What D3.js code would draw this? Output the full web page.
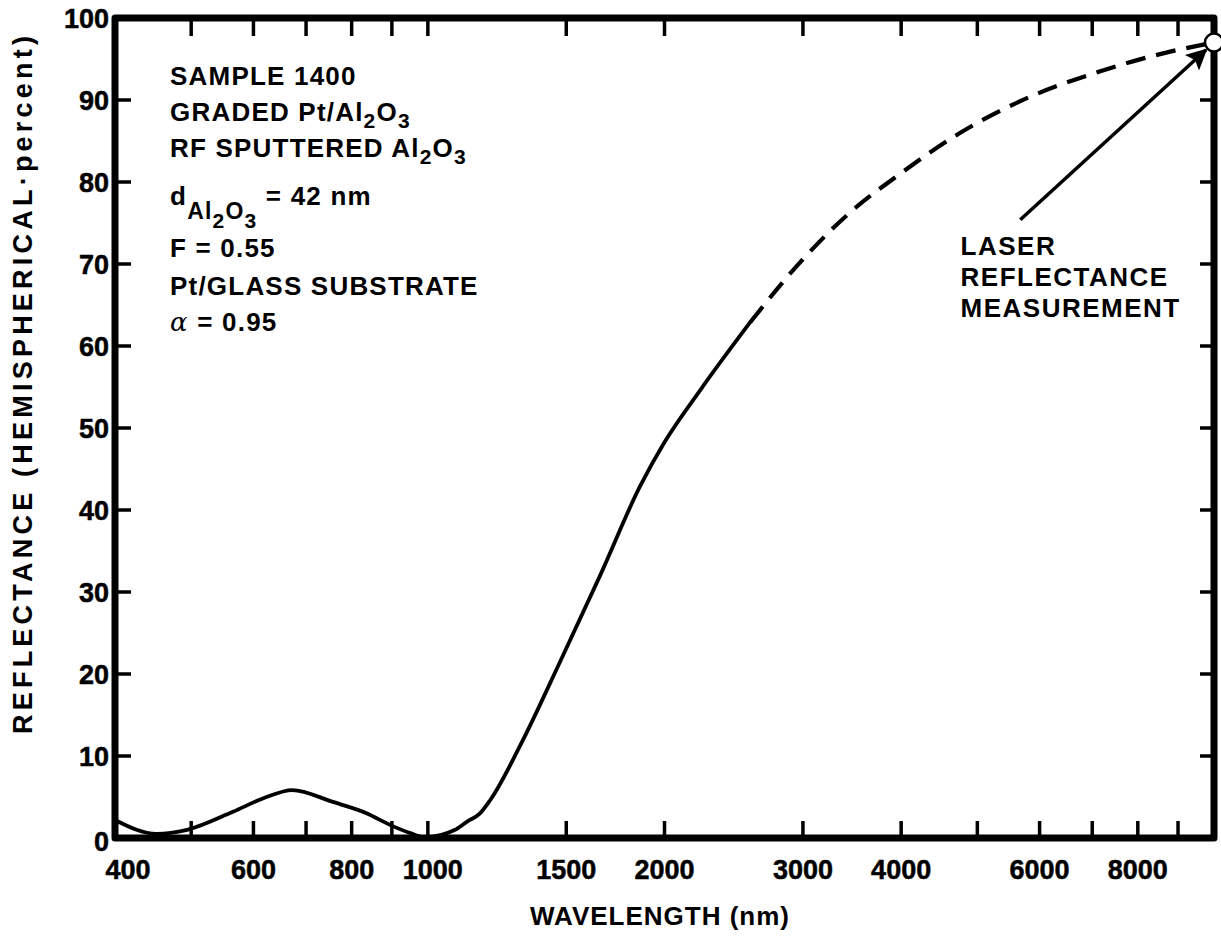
<!DOCTYPE html>
<html>
<head>
<meta charset="utf-8">
<script src="https://cdn.jsdelivr.net/npm/d3@7"></script>
<style>
  body { margin: 0; background: #fff; }
  svg { font-family: "Liberation Sans", Arial, Helvetica, sans-serif; font-weight: bold; }
</style>
</head>
<body>
<svg id="chart" width="1221" height="939"></svg>
<script>
// measured curve, solid part (wavelength nm, reflectance %)
var solidWave = [400, 452, 494, 565, 620, 672, 757, 837, 895, 950, 992, 1083, 1122, 1165, 1200, 1322, 1473, 1656, 1862, 1998, 2220, 2571];
var solidRefl = [2.2, 0.5, 1.0, 3.2, 4.9, 5.85, 4.4, 3.0, 1.6, 0.6, 0.1, 1.0, 2.0, 3.0, 4.6, 12.0, 21.5, 32.0, 42.9, 48.2, 54.6, 62.9];
// dashed extrapolation to laser point
var dashWave = [2571, 2975, 3445, 3988, 4756, 5837, 7168, 8797, 10000];
var dashRefl = [62.9, 70.2, 76.3, 81.0, 86.0, 90.4, 93.5, 95.9, 97];
var laserWave = 10000, laserRefl = 97;

var xTicks = [500, 600, 700, 800, 900, 1000, 1500, 2000, 3000, 4000, 5000, 6000, 7000, 8000, 9000];
var xTickLabels = [400, 600, 800, 1000, 1500, 2000, 3000, 4000, 6000, 8000];
var yTicks = [10, 20, 30, 40, 50, 60, 70, 80, 90];
var yTickLabels = [0, 10, 20, 30, 40, 50, 60, 70, 80, 90, 100];

var svg = d3.select("#chart");

var x = d3.scaleLog().domain([400, 10000]).range([115, 1214]);
var y = d3.scaleLinear().domain([0, 100]).range([838, 18]);

var x0 = x.range()[0], x1 = x.range()[1], y0 = y(0), y1 = y(100);

// frame
svg.append("rect")
    .attr("x", x0).attr("y", y1)
    .attr("width", x1 - x0).attr("height", y0 - y1)
    .attr("fill", "none").attr("stroke", "#000")
    .attr("stroke-width", 7).attr("stroke-linejoin", "round");

// ticks, all pointing inward
var tk = svg.append("g").attr("stroke", "#000").attr("stroke-width", 3.5);
xTicks.forEach(function(d){
    tk.append("line").attr("x1", x(d)).attr("x2", x(d)).attr("y1", y0).attr("y2", y0 - 17);
    tk.append("line").attr("x1", x(d)).attr("x2", x(d)).attr("y1", y1).attr("y2", y1 + 18);
});
yTicks.forEach(function(d){
    tk.append("line").attr("x1", x0).attr("x2", x0 + 16).attr("y1", y(d)).attr("y2", y(d));
    tk.append("line").attr("x1", x1).attr("x2", x1 - 14).attr("y1", y(d)).attr("y2", y(d));
});

// tick labels
svg.append("g").selectAll("text").data(xTickLabels).join("text")
    .attr("x", function(d){ return d == 400 ? x(d) + 13 : x(d) + (d == 1000 ? 5 : 0); })
    .attr("y", 879)
    .attr("text-anchor", "middle")
    .attr("font-size", 27)
    .attr("stroke", "#000").attr("stroke-width", 0.5)
    .text(function(d){ return d; });

svg.append("g").selectAll("text").data(yTickLabels).join("text")
    .attr("x", 109)
    .attr("y", function(d){ return d == 0 ? y(d) + 3 : y(d); })
    .attr("dy", "0.36em")
    .attr("text-anchor", "end")
    .attr("font-size", 27)
    .attr("stroke", "#000").attr("stroke-width", 0.5)
    .text(function(d){ return d; });

// axis titles
svg.append("text")
    .attr("x", 660).attr("y", 925)
    .attr("text-anchor", "middle")
    .attr("font-size", 26).attr("letter-spacing", 1)
    .text("WAVELENGTH (nm)");

svg.append("text")
    .attr("transform", "translate(32,385) rotate(-90)")
    .attr("text-anchor", "middle")
    .attr("font-size", 27)
    .attr("textLength", 698)
    .text("REFLECTANCE (HEMISPHERICAL·percent)");

// curve
var line = d3.line()
    .x(function(d){ return x(d[0]); })
    .y(function(d){ return y(d[1]); })
    .curve(d3.curveMonotoneX);

svg.append("path")
    .datum(d3.zip(solidWave, solidRefl))
    .attr("d", line)
    .attr("fill", "none").attr("stroke", "#000")
    .attr("stroke-width", 3.8).attr("stroke-linecap", "round");

svg.append("path")
    .datum(d3.zip(dashWave, dashRefl))
    .attr("d", line)
    .attr("fill", "none").attr("stroke", "#000")
    .attr("stroke-width", 4.2).attr("stroke-dasharray", "20,11");

// laser point
var r = 9;
svg.append("circle")
    .attr("cx", x(laserWave)).attr("cy", y(laserRefl)).attr("r", r)
    .attr("fill", "#fff").attr("stroke", "#000").attr("stroke-width", 2.5);

// arrow to laser point
svg.append("defs").append("marker")
    .attr("id", "head").attr("viewBox", "0 0 10 10")
    .attr("refX", 9).attr("refY", 5)
    .attr("markerWidth", 8).attr("markerHeight", 6)
    .attr("markerUnits", "strokeWidth")
    .attr("orient", "auto")
  .append("path").attr("d", "M0,0 L10,5 L0,10 L2,5 Z").attr("fill", "#000");

var ax = x(5670), ay = y(75.4);
var bx = x(laserWave), by = y(laserRefl);
var len = Math.hypot(bx - ax, by - ay);
svg.append("line")
    .attr("x1", ax).attr("y1", ay)
    .attr("x2", bx - (bx - ax) / len * (r + 2)).attr("y2", by - (by - ay) / len * (r + 2))
    .attr("stroke", "#000").attr("stroke-width", 3.5)
    .attr("marker-end", "url(#head)");

// annotation text, right
var laserText = ["LASER", "REFLECTANCE", "MEASUREMENT"];
svg.append("g").selectAll("text").data(laserText).join("text")
    .attr("x", x(4760))
    .attr("y", function(d, i){ return y(71.1) + i * 31; })
    .attr("font-size", 26).attr("letter-spacing", 1.5)
    .text(function(d){ return d; });

// sample description block, left
var tx = x(470);
var info = svg.append("g").attr("font-size", 26).attr("letter-spacing", 1.2);

function subLine(yy, parts) {
    var t = info.append("text").attr("x", tx).attr("y", yy);
    var cur = 0;
    parts.forEach(function(p){
        var s = t.append("tspan").text(p[0]);
        var off = p[1] || 0;
        if (off != cur) { s.attr("dy", off - cur); cur = off; }
        if (p[2]) s.attr("font-size", p[2]);
    });
    return t;
}

subLine(85, [["SAMPLE 1400"]]);
subLine(121, [["GRADED Pt/Al"], ["2", 7, 21], ["O"], ["3", 7, 21]]);
subLine(157, [["RF SPUTTERED Al"], ["2", 7, 21], ["O"], ["3", 7, 21]]);
subLine(205, [["d"], ["Al", 14, 23], ["2", 23, 21], ["O", 14, 23], ["3", 23, 21], [" = 42 nm", 0]]);
subLine(257, [["F = 0.55"]]);
subLine(295, [["Pt/GLASS SUBSTRATE"]]);
var alpha = subLine(331, [["α", 0], [" = 0.95", 0]]);
alpha.select("tspan").attr("font-style", "italic").attr("font-weight", "normal")
    .attr("font-family", "'DejaVu Serif', serif");
</script>
</body>
</html>
